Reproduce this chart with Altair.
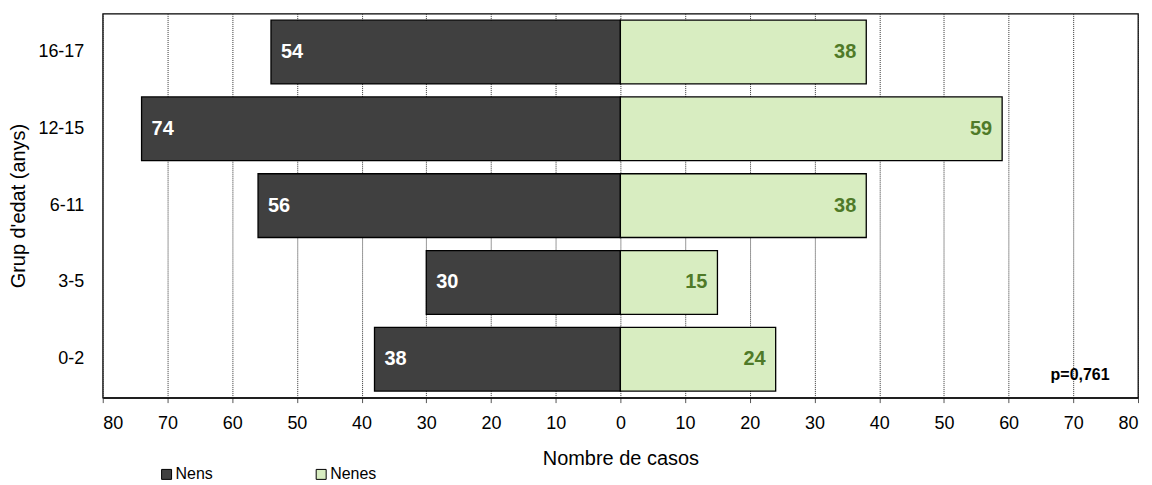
import altair as alt
import pandas as pd

groups = ["16-17", "12-15", "6-11", "3-5", "0-2"]
nens = [54, 74, 56, 30, 38]
nenes = [38, 59, 38, 15, 24]
series = ["Nens", "Nenes"]
x_ticks = [-80, -70, -60, -50, -40, -30, -20, -10, 0, 10, 20, 30, 40, 50, 60, 70, 80]
pvalue_text = "p=0,761"

rows = []
for g, a, b in zip(groups, nens, nenes):
    rows.append({"grup": g, "sexe": "Nens", "casos": a, "pos": -a})
    rows.append({"grup": g, "sexe": "Nenes", "casos": b, "pos": b})
df = pd.DataFrame(rows)

FONT = "Liberation Sans"

x_scale = alt.Scale(domain=[-80, 80], nice=False, zero=False)
y_enc = alt.Y("grup:N", sort=groups,
              scale=alt.Scale(paddingInner=0.17, paddingOuter=0.085),
              axis=alt.Axis(title="Grup d'edat (anys)", ticks=False, domain=False,
                            labelPadding=19, labelFontSize=18, titleFontSize=20,
                            titleFontWeight="normal", titlePadding=9,
                            labelColor="black", titleColor="black"))

bars = alt.Chart(df).mark_bar(stroke="black", strokeWidth=1.3).encode(
    x=alt.X("pos:Q", scale=x_scale,
            axis=alt.Axis(values=x_ticks, labelExpr="abs(datum.value)",
                          title="Nombre de casos", grid=True,
                          gridColor="#333333", gridDash=[1, 1], gridWidth=1,
                          domainColor="black", domainWidth=1.3,
                          tickColor="#555555", tickSize=5, labelPadding=12,
                          labelFontSize=18, titleFontSize=20, titleFontWeight="normal",
                          titlePadding=16, labelColor="black", titleColor="black")),
    x2=alt.datum(0),
    y=y_enc,
    color=alt.Color("sexe:N", scale=alt.Scale(domain=series, range=["#404040", "#d8edc1"]),
                    legend=alt.Legend(title=None, orient="none", direction="horizontal",
                                      legendX=56, legendY=454, symbolType="square",
                                      symbolSize=100, symbolStrokeColor="black",
                                      symbolStrokeWidth=1, labelFontSize=16,
                                      labelColor="black", columnPadding=100,
                                      symbolOffset=0, labelOffset=1, padding=0)),
)

lab_left = alt.Chart(df[df.sexe == "Nens"]).mark_text(
    align="left", baseline="middle", dx=10, fontWeight="bold", fontSize=20,
    color="white", font=FONT).encode(
    x=alt.X("pos:Q", scale=x_scale), y=alt.Y("grup:N", sort=groups), text="casos:Q")

lab_right = alt.Chart(df[df.sexe == "Nenes"]).mark_text(
    align="right", baseline="middle", dx=-10, fontWeight="bold", fontSize=20,
    color="#4f7a28", font=FONT).encode(
    x=alt.X("pos:Q", scale=x_scale), y=alt.Y("grup:N", sort=groups), text="casos:Q")

ptext = alt.Chart(pd.DataFrame({"t": [pvalue_text]})).mark_text(
    align="right", baseline="middle", fontWeight="bold", fontSize=16, dy=16,
    color="black", font=FONT).encode(
    x=alt.datum(75.6), y=alt.datum(groups[-1]), text="t:N")

chart = alt.layer(bars, lab_left, lab_right, ptext).properties(
    width=1038, height=385,
    padding={"left": 95, "top": 5, "right": 6, "bottom": 86},
    autosize=alt.AutoSizeParams(type="none"),
).configure(font=FONT).configure_view(stroke="black", strokeWidth=1.3)

chart.save("out.html", embed_options={"renderer": "svg", "actions": False})
